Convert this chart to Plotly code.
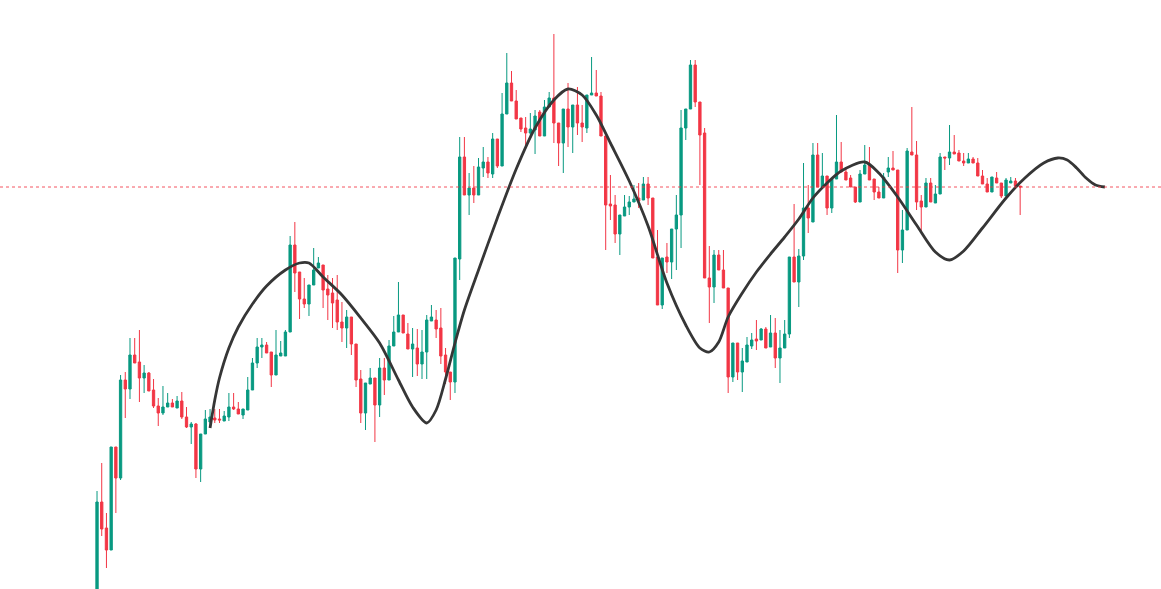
import plotly.graph_objects as go

# candle values (one candle per bar, oldest first)
opens = [-20, 98, 72, 50, 153, 122, 220, 211, 245, 238, 222, 227, 210, 194, 187, 193, 197, 192, 199, 183,
         173, 176, 131, 166, 178, 182, 181, 179, 183, 193, 191, 185, 190, 210, 237, 253, 255, 248, 225, 244,
         244, 268, 355, 328, 301, 296, 315, 332, 335, 311, 307, 300, 278, 272, 283, 256, 221, 187, 216, 222,
         195, 232, 220, 254, 268, 285, 266, 251, 252, 236, 248, 279, 280, 272, 245, 228, 218, 341, 443, 405,
         412, 405, 432, 438, 426, 461, 434, 486, 517, 499, 482, 472, 467, 470, 488, 464, 493, 502, 477, 457,
         491, 473, 495, 477, 472, 505, 507, 504, 464, 396, 395, 366, 384, 393, 398, 402, 400, 416, 402, 343,
         295, 343, 338, 371, 385, 472, 491, 535, 498, 467, 322, 313, 345, 330, 312, 223, 257, 228, 238, 254,
         261, 260, 271, 253, 267, 242, 252, 266, 343, 318, 344, 392, 378, 445, 413, 424, 392, 421, 438, 428,
         422, 413, 398, 426, 435, 421, 408, 402, 428, 432, 430, 350, 370, 448, 445, 399, 393, 417, 397, 406,
         443, 442, 448, 447, 439, 437, 441, 437, 424, 416, 408, 422, 417, 404, 417, 419, 414]
highs = [109, 137, 87, 153, 153, 225, 228, 262, 262, 270, 235, 228, 221, 202, 214, 207, 201, 204, 208, 193,
         178, 177, 166, 190, 191, 191, 191, 189, 207, 207, 198, 191, 223, 242, 262, 262, 258, 248, 270, 259,
         270, 364, 378, 328, 322, 315, 352, 343, 335, 325, 322, 325, 298, 290, 283, 256, 230, 217, 232, 222,
         242, 242, 260, 284, 318, 285, 277, 272, 271, 270, 285, 295, 290, 292, 252, 228, 342, 463, 463, 427,
         434, 442, 453, 443, 467, 461, 507, 547, 529, 510, 482, 483, 487, 490, 490, 500, 508, 566, 477, 491,
         517, 495, 513, 495, 505, 543, 530, 508, 464, 425, 405, 385, 405, 404, 415, 417, 423, 423, 402, 370,
         342, 357, 371, 405, 490, 491, 540, 540, 498, 472, 354, 350, 350, 350, 312, 257, 257, 252, 263, 267,
         280, 272, 273, 285, 282, 270, 280, 343, 396, 351, 437, 415, 457, 457, 447, 424, 421, 485, 458, 433,
         425, 413, 430, 455, 453, 421, 413, 427, 443, 449, 430, 390, 452, 493, 459, 405, 422, 422, 415, 447,
         443, 475, 465, 450, 447, 447, 443, 442, 430, 422, 423, 428, 417, 422, 423, 422, 414]
lows = [-40, 64, 32, 50, 87, 120, 182, 201, 237, 198, 207, 209, 192, 174, 185, 193, 193, 192, 181, 172,
        156, 122, 118, 166, 172, 177, 177, 179, 179, 190, 186, 181, 190, 210, 232, 242, 247, 213, 225, 244,
        244, 268, 308, 281, 292, 284, 315, 332, 292, 280, 272, 270, 258, 252, 245, 213, 177, 170, 216, 158,
        183, 205, 220, 254, 268, 267, 251, 223, 224, 221, 221, 279, 262, 236, 216, 200, 207, 320, 405, 385,
        397, 405, 423, 422, 422, 432, 434, 486, 499, 481, 468, 455, 463, 446, 464, 464, 493, 457, 434, 427,
        453, 447, 465, 458, 467, 505, 504, 464, 350, 380, 357, 345, 384, 385, 398, 392, 400, 395, 342, 295,
        291, 327, 321, 330, 352, 460, 491, 493, 415, 322, 277, 297, 330, 312, 207, 218, 220, 208, 238, 251,
        250, 260, 252, 253, 232, 217, 252, 262, 318, 293, 340, 367, 378, 413, 413, 385, 387, 421, 428, 420,
        413, 397, 398, 426, 420, 400, 402, 402, 423, 430, 327, 337, 370, 445, 390, 368, 393, 398, 397, 406,
        430, 435, 446, 439, 434, 437, 437, 424, 416, 408, 408, 417, 402, 404, 417, 414, 385]
closes = [98, 71, 50, 153, 122, 220, 211, 245, 237, 222, 227, 209, 194, 187, 193, 197, 193, 199, 183, 173,
          176, 131, 166, 181, 183, 180, 180, 184, 193, 191, 186, 191, 210, 237, 253, 255, 247, 225, 245, 247,
          268, 355, 327, 301, 296, 315, 330, 337, 310, 305, 297, 278, 272, 283, 256, 220, 187, 217, 222, 195,
          232, 220, 254, 268, 285, 267, 251, 256, 236, 248, 280, 283, 271, 244, 228, 218, 342, 443, 405, 412,
          405, 433, 438, 427, 461, 434, 486, 517, 499, 481, 471, 467, 471, 484, 464, 493, 502, 477, 457, 491,
          473, 495, 477, 473, 505, 507, 504, 464, 395, 394, 366, 385, 393, 398, 401, 399, 416, 402, 342, 295,
          342, 338, 371, 385, 472, 491, 535, 498, 465, 322, 313, 345, 330, 312, 223, 257, 228, 239, 255, 260,
          259, 271, 252, 267, 242, 252, 266, 343, 318, 344, 392, 382, 445, 413, 424, 392, 421, 438, 428, 420,
          413, 398, 426, 435, 420, 408, 402, 423, 432, 430, 350, 370, 449, 445, 398, 393, 417, 398, 406, 443,
          442, 448, 446, 439, 437, 441, 437, 424, 416, 408, 423, 417, 404, 420, 419, 414, 413]

# smooth indicator curve, sampled at bar positions (runs past the last bar)
curve_idx = [24, 25, 26, 28, 30, 33, 36, 40, 43, 45, 48, 52, 56, 60, 64, 67, 70, 72, 74, 76,
             78, 81, 85, 89, 93, 97, 100, 103, 106, 109, 113, 117, 121, 125, 128, 130, 132, 134, 137, 140,
             143, 146, 149, 152, 155, 158, 163, 166, 170, 174, 178, 181, 184, 188, 193, 197, 201, 204, 206, 208,
             210, 212, 214]
curve_val = [172, 200, 222, 252, 273, 296, 314, 330, 337, 337, 323, 305, 282, 257, 220, 193, 177, 190, 221, 257,
             290, 330, 382, 431, 472, 500, 511, 505, 485, 457, 419, 374, 317, 275, 252, 248, 258, 283, 307, 328,
             346, 363, 381, 402, 417, 429, 438, 427, 403, 375, 348, 340, 349, 372, 402, 422, 437, 442, 440, 432,
             422, 415, 413]

bars = list(range(len(opens)))
last_close = closes[-1]

fig = go.Figure()
fig.add_trace(go.Candlestick(
    x=bars, open=opens, high=highs, low=lows, close=closes,
    increasing=dict(line=dict(color="#089981", width=1), fillcolor="#089981"),
    decreasing=dict(line=dict(color="#F23645", width=1), fillcolor="#F23645"),
    whiskerwidth=0,
    showlegend=False,
))
fig.add_trace(go.Scatter(
    x=curve_idx, y=curve_val, mode="lines",
    line=dict(color="#363636", width=2.8, shape="spline", smoothing=0.8),
    showlegend=False,
))

# last price marker
fig.add_hline(y=last_close, line=dict(color="#F23645", width=1, dash="dot"), opacity=0.85)

fig.update_layout(
    width=1161, height=589,
    margin=dict(l=0, r=0, t=0, b=0),
    paper_bgcolor="white", plot_bgcolor="white",
    xaxis=dict(range=[-20.6, 225.9], visible=False, rangeslider=dict(visible=False),
               showgrid=False, zeroline=False),
    yaxis=dict(range=[11, 600], showgrid=False, zeroline=False, showticklabels=False,
               ticks="", showline=True, linecolor="#eeeef2", linewidth=2),
)

# page margin off so the chart sits flush in the window
fig.write_html("out.html", config={"displayModeBar": False},
               post_script="document.body.style.margin='0';")
